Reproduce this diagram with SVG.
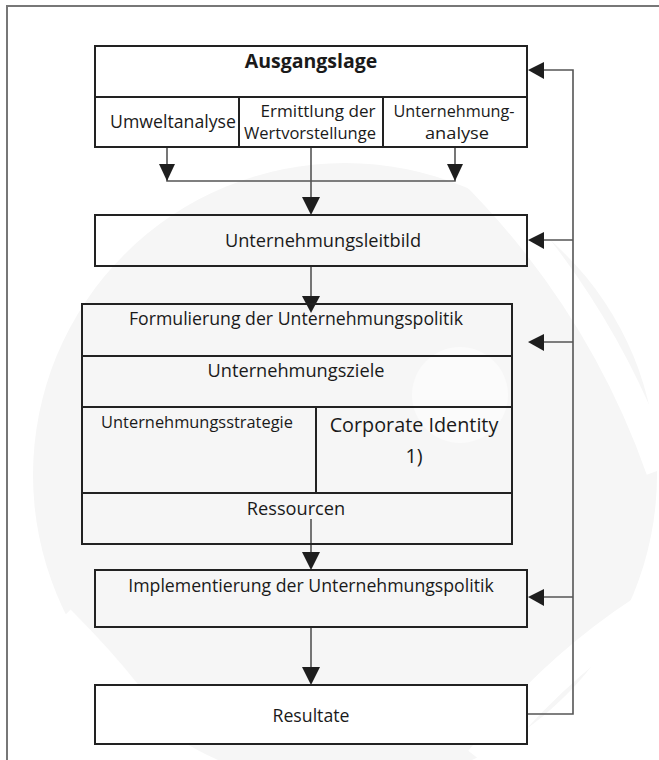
<svg xmlns="http://www.w3.org/2000/svg" width="659" height="760" viewBox="0 0 659 760">
<style>
.box{fill:none;stroke:#222;stroke-width:2}
.t{font-family:"Open Sans","Liberation Sans",sans-serif;fill:#1a1a1a;text-anchor:middle;font-size:17.7px}
.s{font-size:16px}
.c{fill:none;stroke:#555;stroke-width:1.6}
.ah{fill:#1e1e1e}
</style>
<rect x="0" y="0" width="659" height="760" fill="#ffffff"/>
<g id="watermark">
<circle cx="345" cy="475" r="312" fill="#f6f6f6"/>
<path d="M470 170 Q600 300 660 470" fill="none" stroke="#ffffff" stroke-width="28"/>
<circle cx="460" cy="395" r="48" fill="#fbfbfb"/>
<path d="M60 620 Q140 700 170 760" fill="none" stroke="#ffffff" stroke-width="30"/>
<path d="M480 760 Q560 660 659 600" fill="none" stroke="#ffffff" stroke-width="30"/>
</g>
<path d="M7 760 V6 H659" fill="none" stroke="#777" stroke-width="2"/>
<g id="connectors">
<path class="c" d="M167 147 V181 H455 V147"/>
<path class="c" d="M311 147 V206"/>
<path class="c" d="M311 266 V304"/>
<path class="c" d="M311 519 V561"/>
<path class="c" d="M311 627 V676"/>
<path class="c" d="M527 714 H573 V70 H536"/>
<path class="c" d="M573 240 H536 M573 342 H537 M573 597 H536"/>
<polygon class="ah" points="159,164 175,164 167,181"/>
<polygon class="ah" points="447,164 463,164 455,181"/>
<polygon class="ah" points="302,197 320,197 311,215"/>
<polygon class="ah" points="302,296 320,296 311,313"/>
<polygon class="ah" points="302,552 320,552 311,570"/>
<polygon class="ah" points="302,667 320,667 311,685"/>
<polygon class="ah" points="528,70 544,62 544,79"/>
<polygon class="ah" points="528,240 544,232 544,249"/>
<polygon class="ah" points="528,342 544,334 544,351"/>
<polygon class="ah" points="528,597 544,589 544,606"/>
</g>
<g id="ausgangslage">
<rect class="box" x="95" y="46" width="432" height="101"/>
<line class="box" x1="95" y1="97" x2="527" y2="97"/>
<line class="box" x1="239" y1="97" x2="239" y2="147"/>
<line class="box" x1="383" y1="97" x2="383" y2="147"/>
<text class="t" x="311" y="68" style="font-size:19.5px;font-weight:bold">Ausgangslage</text>
<text class="t" x="173" y="128">Umweltanalyse</text>
<text class="t s" x="318" y="117" textLength="115" lengthAdjust="spacingAndGlyphs">Ermittlung der</text>
<text class="t s" x="310" y="139" textLength="132" lengthAdjust="spacingAndGlyphs">Wertvorstellunge</text>
<text class="t s" x="454" y="117" textLength="121" lengthAdjust="spacingAndGlyphs">Unternehmung-</text>
<text class="t s" x="457" y="139" textLength="64" lengthAdjust="spacingAndGlyphs">analyse</text>
</g>
<g id="leitbild">
<rect class="box" x="95" y="215" width="432" height="51"/>
<text class="t" x="323" y="247" style="font-size:18.2px">Unternehmungsleitbild</text>
</g>
<g id="formulierung">
<rect class="box" x="82" y="304" width="430" height="240"/>
<line class="box" x1="82" y1="356" x2="512" y2="356"/>
<line class="box" x1="82" y1="407" x2="512" y2="407"/>
<line class="box" x1="82" y1="493" x2="512" y2="493"/>
<line class="box" x1="316" y1="407" x2="316" y2="493"/>
<text class="t" x="296" y="325">Formulierung der Unternehmungspolitik</text>
<text class="t" x="296" y="377" style="font-size:18.2px">Unternehmungsziele</text>
<text class="t" x="197" y="428" style="font-size:16.4px">Unternehmungsstrategie</text>
<text class="t" x="414" y="432" style="font-size:19.8px">Corporate Identity</text>
<text class="t" x="414" y="463" style="font-size:19.8px">1)</text>
<text class="t" x="296" y="515" style="font-size:18.2px">Ressourcen</text>
</g>
<g id="implementierung">
<rect class="box" x="95" y="570" width="432" height="57"/>
<text class="t" x="311" y="592">Implementierung der Unternehmungspolitik</text>
</g>
<g id="resultate">
<rect class="box" x="95" y="685" width="432" height="59" style="fill:#fff"/>
<text class="t" x="311" y="722">Resultate</text>
</g>
</svg>
